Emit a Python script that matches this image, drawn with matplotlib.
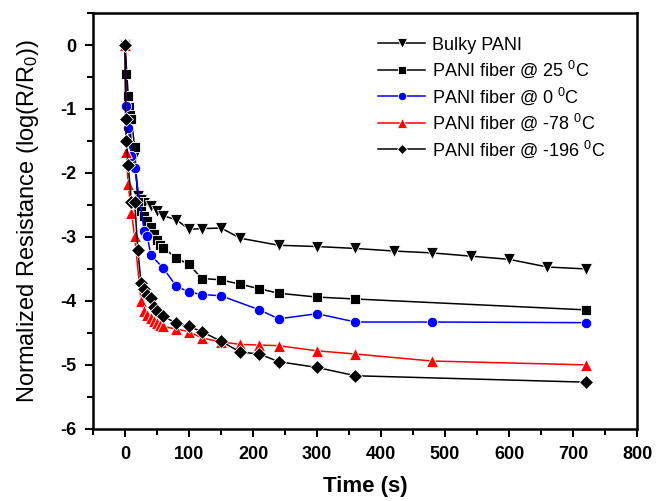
import matplotlib
matplotlib.use("Agg")
import matplotlib.pyplot as plt
import numpy as np
from matplotlib.ticker import MultipleLocator

plt.rcParams["font.family"] = ["Liberation Sans", "DejaVu Sans"]
plt.rcParams["mathtext.fontset"] = "custom"
plt.rcParams["mathtext.rm"] = "Liberation Sans"
plt.rcParams["mathtext.it"] = "Liberation Sans"
plt.rcParams["axes.unicode_minus"] = False

# time [s] / log(R/R0)
t_bulk = [0, 10, 15, 20, 25, 30, 40, 50, 60, 80, 100, 120, 150, 180, 240,
          300, 360, 420, 480, 540, 600, 660, 720]
v_bulk = [0, -1.6, -1.72, -2.36, -2.42, -2.47, -2.52, -2.6, -2.67, -2.73,
          -2.88, -2.87, -2.86, -3.02, -3.13, -3.15, -3.18, -3.22, -3.25,
          -3.30, -3.35, -3.47, -3.50]

t_25 = [0, 2, 4, 6, 8, 10, 15, 20, 25, 30, 35, 40, 45, 50, 55, 60, 80, 100,
        120, 150, 180, 210, 240, 300, 360, 720]
v_25 = [0, -0.45, -0.8, -0.97, -1.1, -1.15, -1.6, -2.45, -2.6, -2.68, -2.75,
        -2.85, -2.95, -3.05, -3.12, -3.17, -3.33, -3.43, -3.65, -3.67, -3.74,
        -3.81, -3.88, -3.94, -3.97, -4.14]

t_0 = [0, 2, 5, 10, 15, 30, 35, 40, 60, 80, 100, 120, 150, 210, 240, 300,
       360, 480, 720]
v_0 = [0, -0.95, -1.3, -1.73, -1.92, -2.9, -2.99, -3.28, -3.49, -3.77, -3.86,
       -3.90, -3.92, -4.14, -4.28, -4.20, -4.33, -4.33, -4.34]

t_78 = [0, 2, 5, 10, 15, 25, 30, 35, 40, 45, 50, 55, 60, 80, 100, 120, 150,
        180, 210, 240, 300, 360, 480, 720]
v_78 = [0, -1.68, -2.18, -2.62, -2.99, -4.0, -4.16, -4.22, -4.27, -4.32,
        -4.35, -4.37, -4.40, -4.44, -4.48, -4.58, -4.64, -4.68, -4.69, -4.70,
        -4.78, -4.83, -4.94, -5.00]

t_196 = [0, 1, 2, 5, 10, 15, 20, 25, 30, 35, 40, 45, 50, 60, 80, 100, 120,
         150, 180, 210, 240, 300, 360, 720]
v_196 = [0, -1.16, -1.5, -1.88, -2.45, -2.45, -3.2, -3.72, -3.82, -3.9,
         -3.95, -4.09, -4.16, -4.24, -4.35, -4.40, -4.48, -4.63, -4.80,
         -4.83, -4.95, -5.04, -5.17, -5.27]

labels = ["Bulky PANI",
          r"PANI fiber @ 25 $^{0}$C",
          r"PANI fiber @ 0 $^{0}$C",
          r"PANI fiber @ -78 $^{0}$C",
          r"PANI fiber @ -196 $^{0}$C"]

series = [
    (t_bulk, v_bulk, "v", "black", 8.5),
    (t_25, v_25, "s", "black", 7),
    (t_0, v_0, "o", "blue", 7.5),
    (t_78, v_78, "^", "red", 8.5),
    (t_196, v_196, "D", "black", 7),
]

fig = plt.figure(figsize=(6.57, 5.01), dpi=100)
ax = fig.add_axes([0.1416, 0.144, 0.828, 0.830])

for (t, v, m, c, ms), lab in zip(series, labels):
    ax.plot(t, v, color=c, lw=1.1, marker=m, ms=ms, mfc=c, mec="white",
            mew=0.6, label=lab)

ax.set_xlim(-50, 800)
ax.set_ylim(-6, 0.5)
xt = np.arange(0, 801, 100)
yt = np.arange(-6, 1, 1)
ax.set_xticks(xt, [str(v) for v in xt], fontsize=13, fontweight="bold")
ax.set_yticks(yt, [str(v) for v in yt], fontsize=13, fontweight="bold")
ax.xaxis.set_minor_locator(MultipleLocator(50))
ax.yaxis.set_minor_locator(MultipleLocator(0.5))
ax.tick_params(which="both", direction="out", width=1.5, top=False, right=False)
ax.tick_params(which="major", length=6, pad=6)
ax.tick_params(which="minor", length=4)
for s in ax.spines.values():
    s.set_linewidth(1.8)

ax.set_xlabel("Time (s)", fontsize=16, fontweight="bold", labelpad=10)
ax.set_ylabel(r"Normalized Resistance (log(R/R$_0$))", fontsize=17, labelpad=14)

ax.legend(loc="upper right", bbox_to_anchor=(0.982, 0.995), frameon=False,
          fontsize=13, handlelength=2.6, handletextpad=0.4, labelspacing=0.28,
          borderaxespad=0.8, markerscale=0.8)

fig.savefig("out.png", dpi=100)
